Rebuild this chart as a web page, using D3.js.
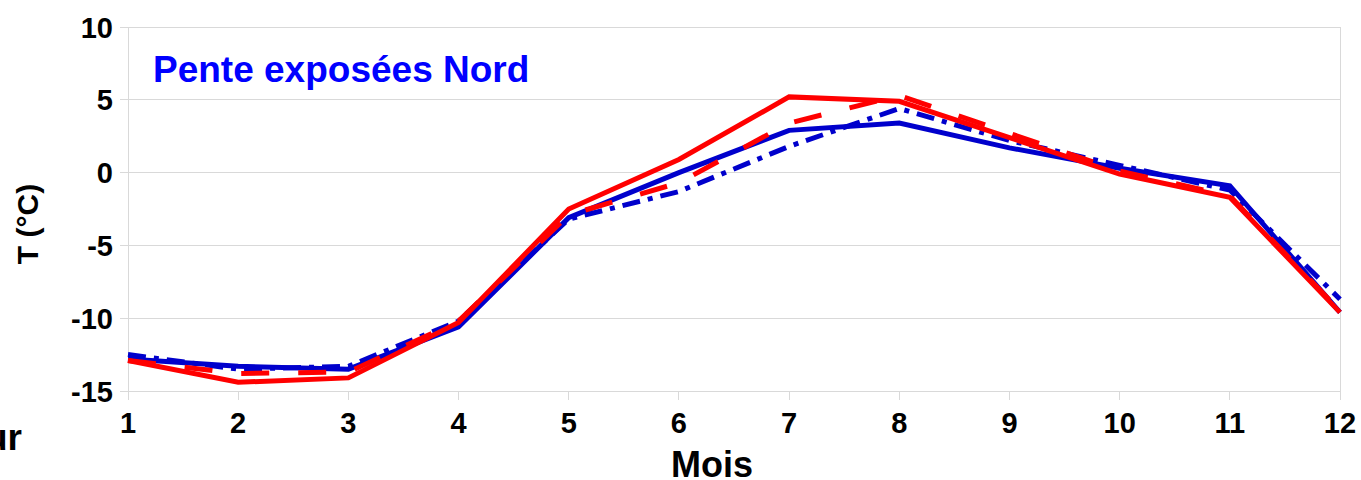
<!DOCTYPE html>
<html><head><meta charset="utf-8">
<script src="https://cdn.jsdelivr.net/npm/d3@7"></script>
<style>html,body{margin:0;padding:0;background:#fff;}svg{display:block;font-family:"Liberation Sans",Arial,sans-serif;}</style>
</head><body>
<svg id="c" width="1361" height="480"></svg>
<script>
const months = [1,2,3,4,5,6,7,8,9,10,11,12];
const blueSolid   = [-12.8,-13.3,-13.5,-10.6,-3.1,0.0,2.9,3.4,1.7,0.3,-0.9,-9.6];
const blueDashDot = [-12.5,-13.5,-13.3,-10.2,-3.2,-1.3,1.8,4.4,2.2,0.5,-1.2,-8.7];
const redSolid    = [-12.9,-14.4,-14.1,-10.3,-2.5,0.9,5.2,4.9,2.4,-0.1,-1.7,-9.6];
const redDashed   = [-12.9,-13.8,-13.7,-10.2,-2.9,-0.7,3.4,5.3,2.7,0.1,-1.6,-9.5];
const yTicks = [-15,-10,-5,0,5,10];
const title = "Pente exposées Nord";
const xLabel = "Mois";
const yLabel = "T (°C)";

const svg = d3.select("#c");
const x = d3.scaleLinear().domain([1,12]).range([128,1340]);
const y = d3.scaleLinear().domain([-15,10]).range([391,27]);
const grid = "#d9d9d9";

svg.append("g").selectAll("line").data(yTicks).join("line")
  .attr("x1",120).attr("x2",1340).attr("y1",d=>y(d)).attr("y2",d=>y(d))
  .attr("stroke",grid).attr("stroke-width",1).attr("shape-rendering","crispEdges");
[128,1340].forEach(px=>{
  svg.append("line").attr("x1",px).attr("x2",px).attr("y1",27).attr("y2",400)
    .attr("stroke",grid).attr("shape-rendering","crispEdges");
});
svg.append("g").selectAll("line").data(months).join("line")
  .attr("x1",d=>x(d)).attr("x2",d=>x(d)).attr("y1",391).attr("y2",400)
  .attr("stroke",grid).attr("shape-rendering","crispEdges");

svg.append("g").selectAll("text").data(yTicks).join("text")
  .attr("x",113).attr("y",d=>y(d)+10.5).attr("text-anchor","end")
  .attr("font-size",29).attr("font-weight","bold").text(d=>d);
svg.append("g").selectAll("text").data(months).join("text")
  .attr("x",d=>x(d)).attr("y",433).attr("text-anchor","middle")
  .attr("font-size",29).attr("font-weight","bold").text(d=>d);

svg.append("text").attr("x",712).attr("y",477).attr("text-anchor","middle")
  .attr("font-size",36).attr("font-weight","bold").text(xLabel);
svg.append("text").attr("transform","translate(38,224) rotate(-90)").attr("text-anchor","middle")
  .attr("font-size",30).attr("font-weight","bold").text(yLabel);
svg.append("text").attr("x",22).attr("y",450).attr("text-anchor","end")
  .attr("font-size",37).attr("font-weight","bold").text("Jour");

const line = d3.line().x((d,i)=>x(months[i])).y(d=>y(d));
const series = [
  {v:blueSolid,c:"#0000cc",dash:null},
  {v:blueDashDot,c:"#0000cc",dash:"18,8,5,8"},
  {v:redSolid,c:"#ff0000",dash:null},
  {v:redDashed,c:"#ff0000",dash:"28,29"}
];
series.forEach(s=>{
  svg.append("path").attr("d",line(s.v)).attr("fill","none")
    .attr("stroke",s.c).attr("stroke-width",5).attr("stroke-linejoin","miter")
    .attr("stroke-dasharray",s.dash);
});

svg.append("text").attr("x",153).attr("y",82).attr("fill","#0000ff")
  .attr("font-size",37).attr("font-weight","bold").text(title);
</script>
</body></html>
